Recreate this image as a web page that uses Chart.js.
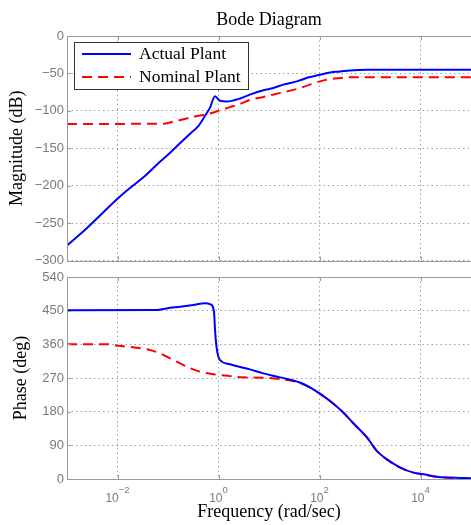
<!DOCTYPE html>
<html>
<head>
<meta charset="utf-8">
<script src="https://cdn.jsdelivr.net/npm/chart.js@4.4.1/dist/chart.umd.min.js"></script>
<style>
  html, body { margin: 0; padding: 0; background: #fff; }
  #wrap { position: relative; width: 471px; height: 525px; overflow: hidden; }
  #mag { position: absolute; left: 0; top: 0; }
  #phase { position: absolute; left: 0; top: 262px; }
</style>
</head>
<body>
<div id="wrap">
  <canvas id="mag" width="471" height="270"></canvas>
  <canvas id="phase" width="471" height="263"></canvas>
</div>
<script>
// frequencies in rad/sec, magnitude in dB, phase in deg
const magFreqActual = [0.001, 0.0024, 0.01, 0.0178, 0.0363, 0.0692, 0.11, 0.174, 0.275, 0.398, 0.537, 0.676, 0.851, 1.07, 1.45, 2.69, 4.17, 7.76, 12.2, 19.1, 35.5, 64.6, 102, 162, 257, 398, 871, 100000];
const magActual = [-280, -257.5, -217.5, -203, -186, -168, -156, -143, -130.5, -120.5, -107, -96, -80.5, -86.5, -87.5, -83.5, -78.3, -72.6, -69.5, -65, -60.6, -54.9, -51.8, -48.7, -47.4, -46, -45.2, -45.2];

const magFreqNominal = [0.001, 0.0794, 0.126, 0.234, 0.372, 0.631, 1.04, 1.7, 2.69, 4.17, 7.76, 16.6, 35.5, 64.6, 102, 162, 257, 468, 100000];
const magNominal = [-117.5, -117.2, -114.6, -110.2, -107, -104, -99.6, -95, -90.7, -85.5, -81.4, -76, -70.8, -65, -60.6, -57.5, -56.2, -55, -55];

const phaseFreqActual = [0.001, 0.0631, 0.0933, 0.174, 0.316, 0.537, 0.692, 0.794, 0.822, 0.853, 0.92, 1.0, 1.07, 1.7, 4.17, 7.76, 16.6, 40.7, 64.6, 105, 186, 295, 468, 871, 1350, 2140, 3890, 7240, 11500, 20900, 38000, 100000];
const phaseActual = [451, 452, 456, 460.5, 465, 469.5, 467, 455, 440, 400, 350, 326, 318, 306.6, 293, 282.4, 271.7, 258, 245, 227, 202, 178, 149, 111, 76, 53, 31.3, 17, 12.5, 6.3, 4, 2];

const phaseFreqNominal = [0.001, 0.00708, 0.0105, 0.0204, 0.0437, 0.0692, 0.11, 0.174, 0.275, 0.427, 0.794, 1.7, 2.69, 7.76, 16.6, 35.5, 64.6, 105, 186, 295, 468, 871, 1350, 2140, 3890, 7240, 11500, 20900, 38000, 100000];
const phaseNominal = [360, 360, 356, 352, 345, 336, 322.6, 309.3, 296, 287, 280, 275, 272, 271, 267.3, 259.3, 245, 227, 202, 178, 149, 111, 76, 52, 31, 17, 12, 6, 3, 2];

const seriesNames = ['Actual Plant', 'Nominal Plant'];
const freqTicks = [1e-2, 1, 1e2, 1e4];
const magTicks = [-300, -250, -200, -150, -100, -50, 0];
const phaseTicks = [0, 90, 180, 270, 360, 450, 540];

const toPoints = (xs, ys) => xs.map((x, i) => ({ x, y: ys[i] }));
const minus = (v) => (v < 0 ? '\u2212' + Math.abs(v) : String(v));

const GRAY = '#7a7a7a';
const FRAME = '#9a9a9a';
const serif = 'Liberation Serif';
const sans = 'Liberation Sans';

// axes box with small inward ticks, like matlab
const frameBox = {
  id: 'frameBox',
  afterDatasetsDraw(chart) {
    const { ctx, chartArea: a, scales } = chart;
    ctx.save();
    ctx.strokeStyle = FRAME;
    ctx.lineWidth = 1;
    ctx.beginPath();
    ctx.moveTo(a.right, Math.round(a.top) + 0.5);
    ctx.lineTo(Math.round(a.left) + 0.5, Math.round(a.top) + 0.5);
    ctx.lineTo(Math.round(a.left) + 0.5, Math.round(a.bottom) + 0.5);
    ctx.lineTo(a.right, Math.round(a.bottom) + 0.5);
    ctx.stroke();
    ctx.beginPath();
    scales.y.ticks.forEach((t) => {
      const y = Math.round(scales.y.getPixelForValue(t.value)) + 0.5;
      ctx.moveTo(a.left, y);
      ctx.lineTo(a.left + 4, y);
    });
    scales.x.ticks.forEach((t) => {
      const x = Math.round(scales.x.getPixelForValue(t.value)) + 0.5;
      ctx.moveTo(x, a.bottom);
      ctx.lineTo(x, a.bottom - 4);
      ctx.moveTo(x, a.top);
      ctx.lineTo(x, a.top + 4);
    });
    ctx.stroke();
    ctx.restore();
  },
};

const boxLegend = {
  id: 'boxLegend',
  afterDatasetsDraw(chart) {
    const { ctx, chartArea } = chart;
    const x0 = Math.round(chartArea.left) + 7;
    const y0 = Math.round(chartArea.top) + 6;
    ctx.save();
    ctx.fillStyle = '#fff';
    ctx.fillRect(x0, y0, 174, 47);
    ctx.strokeStyle = '#333';
    ctx.lineWidth = 1;
    ctx.strokeRect(x0 + 0.5, y0 + 0.5, 174, 47);
    chart.data.datasets.forEach((ds, i) => {
      const y = y0 + 12 + i * 23;
      ctx.strokeStyle = ds.borderColor;
      ctx.lineWidth = 2;
      ctx.setLineDash(ds.borderDash || []);
      ctx.beginPath();
      ctx.moveTo(x0 + 8, y);
      ctx.lineTo(x0 + 57, y);
      ctx.stroke();
      ctx.setLineDash([]);
      ctx.fillStyle = '#000';
      ctx.font = '17.5px "' + serif + '"';
      ctx.textBaseline = 'middle';
      ctx.fillText(ds.label, x0 + 65, y);
    });
    ctx.restore();
  },
};

// 10^n labels with a raised exponent
const powerLabels = {
  id: 'powerLabels',
  afterDraw(chart) {
    const { ctx } = chart;
    const sx = chart.scales.x;
    const big = '12px "' + sans + '"';
    const small = '9.5px "' + sans + '"';
    ctx.save();
    ctx.fillStyle = GRAY;
    ctx.textBaseline = 'alphabetic';
    sx.ticks.forEach((t) => {
      const exp = minus(Math.round(Math.log10(t.value)));
      ctx.font = big;
      const wb = ctx.measureText('10').width;
      ctx.font = small;
      const we = ctx.measureText(exp).width;
      const x = sx.getPixelForValue(t.value) - (wb + we) / 2;
      ctx.font = big;
      ctx.fillText('10', x, sx.top + 22.5);
      ctx.font = small;
      ctx.fillText(exp, x + wb, sx.top + 14);
    });
    ctx.restore();
  },
};

const lineStyle = (i) => ({
  label: seriesNames[i],
  borderColor: i === 0 ? '#0000ff' : '#ff0000',
  borderDash: i === 0 ? [] : [10, 6],
  borderWidth: 2,
  pointRadius: 0,
  fill: false,
  cubicInterpolationMode: 'monotone',
});

const xAxis = (height, withTitle) => ({
  type: 'logarithmic',
  min: 1e-3,
  max: 1e5,
  afterBuildTicks: (s) => { s.ticks = freqTicks.map((v) => ({ value: v })); },
  afterFit: (s) => { s.height = height; },
  ticks: { display: false },
  grid: { color: '#a0a0a0', drawTicks: false },
  border: { display: false, dash: [1.5, 3] },
  title: {
    display: withTitle,
    text: 'Frequency (rad/sec)',
    color: '#000',
    font: { family: serif, size: 18 },
    padding: { top: 0, bottom: 2.2 },
  },
});

const yAxis = (range, ticks, title, titlePad) => ({
  min: range[0],
  max: range[1],
  afterBuildTicks: (s) => { s.ticks = ticks.map((v) => ({ value: v })); },
  afterFit: (s) => { s.width = 67; },
  ticks: {
    color: GRAY,
    padding: 3,
    font: { family: sans, size: 13, lineHeight: 1 },
    callback: (v) => minus(v),
  },
  grid: { color: '#a0a0a0', drawTicks: false },
  border: { display: false, dash: [1.5, 3] },
  title: {
    display: true,
    text: title,
    color: '#000',
    font: { family: serif, size: 18 },
    padding: { top: titlePad, bottom: 0 },
  },
});

new Chart(document.getElementById('mag'), {
  type: 'line',
  data: {
    datasets: [
      { ...lineStyle(0), data: toPoints(magFreqActual, magActual) },
      { ...lineStyle(1), data: toPoints(magFreqNominal, magNominal) },
    ],
  },
  options: {
    responsive: false,
    animation: false,
    layout: { padding: { top: 0, left: 0, right: 0, bottom: 8 } },
    scales: {
      x: xAxis(0, false),
      y: yAxis([-300, 0], magTicks, 'Magnitude (dB)', 6.7),
    },
    plugins: {
      legend: { display: false },
      tooltip: { enabled: false },
      title: {
        display: true,
        text: 'Bode Diagram',
        fullSize: false,
        color: '#000',
        font: { family: serif, size: 18, weight: 'normal' },
        padding: { top: 9.1, bottom: 5.3 },
      },
    },
  },
  plugins: [frameBox, boxLegend],
});

new Chart(document.getElementById('phase'), {
  type: 'line',
  data: {
    datasets: [
      { ...lineStyle(0), data: toPoints(phaseFreqActual, phaseActual) },
      { ...lineStyle(1), data: toPoints(phaseFreqNominal, phaseNominal) },
    ],
  },
  options: {
    responsive: false,
    animation: false,
    layout: { padding: { top: 15, left: 0, right: 0, bottom: 0 } },
    scales: {
      x: xAxis(46, true),
      y: yAxis([0, 540], phaseTicks, 'Phase (deg)', 10),
    },
    plugins: {
      legend: { display: false },
      tooltip: { enabled: false },
    },
  },
  plugins: [frameBox, powerLabels],
});
</script>
</body>
</html>
